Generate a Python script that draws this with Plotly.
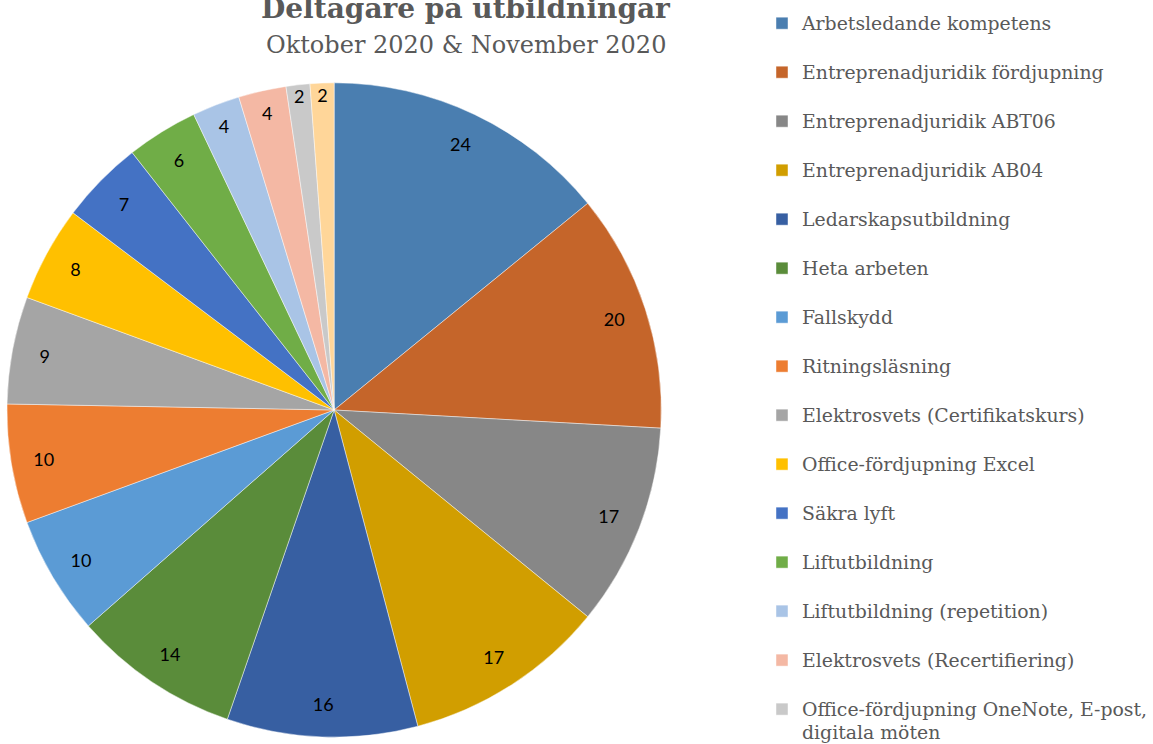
import plotly.graph_objects as go

labels = [
    "Arbetsledande kompetens",
    "Entreprenadjuridik fördjupning",
    "Entreprenadjuridik ABT06",
    "Entreprenadjuridik AB04",
    "Ledarskapsutbildning",
    "Heta arbeten",
    "Fallskydd",
    "Ritningsläsning",
    "Elektrosvets (Certifikatskurs)",
    "Office-fördjupning Excel",
    "Säkra lyft",
    "Liftutbildning",
    "Liftutbildning (repetition)",
    "Elektrosvets (Recertifiering)",
    "Office-fördjupning OneNote, E-post,<br>digitala möten",
    "Office-fördjupning Word",
]
values = [24, 20, 17, 17, 16, 14, 10, 10, 9, 8, 7, 6, 4, 4, 2, 2]
colors = [
    "#4A7EB0", "#C5652A", "#878787", "#D19E00", "#375FA2", "#5A8C3A",
    "#5B9BD5", "#ED7D31", "#A5A5A5", "#FFC000", "#4472C4", "#70AD47",
    "#A9C4E6", "#F4B8A4", "#C9C9C9", "#FFD699",
]
title = "Deltagare på utbildningar"
subtitle = "Oktober 2020 & November 2020"

W, H = 1153, 744
cx, cy, r = 335, 410, 328
dom_x = [(cx - r) / W, (cx + r) / W]
dom_y = [(H - cy - r) / H, (H - cy + r) / H]

legend_labels = ["<span style='font-size:18.85px'>" + lab + "</span><br> " for lab in labels]

fig = go.Figure()
fig.add_trace(go.Pie(
    labels=legend_labels, values=values, sort=False, direction="clockwise",
    rotation=0, marker=dict(colors=colors, line=dict(color="rgba(255,255,255,0.6)", width=0.75)),
    textinfo="none", domain=dict(x=dom_x, y=dom_y), hoverinfo="label+value",
))
fig.add_trace(go.Pie(
    labels=legend_labels, values=values, sort=False, direction="clockwise",
    rotation=0, hole=0.8, marker=dict(colors=["rgba(0,0,0,0)"] * len(values)),
    textinfo="value", textposition="inside", insidetextorientation="horizontal",
    textfont=dict(family="Lato", size=18, color="#000000"),
    domain=dict(x=dom_x, y=dom_y), showlegend=False, hoverinfo="skip",
))

fig.add_annotation(text="<b>" + title + "</b>", xref="paper", yref="paper",
                   x=467 / W, y=1 - 8.5 / H, xanchor="center", yanchor="middle",
                   showarrow=False, font=dict(family="DejaVu Serif", size=28, color="#595959"))
fig.add_annotation(text=subtitle, xref="paper", yref="paper",
                   x=467 / W, y=1 - 45 / H, xanchor="center", yanchor="middle",
                   showarrow=False, font=dict(family="DejaVu Serif", size=24, color="#595959"))

fig.update_layout(
    width=W, height=H, margin=dict(l=0, r=0, t=0, b=0),
    paper_bgcolor="white", plot_bgcolor="white",
    uniformtext=dict(minsize=18, mode="show"),
    legend=dict(x=764 / W, y=1, xanchor="left", yanchor="top", valign="top",
                title=dict(text=" ", font=dict(size=4)),
                font=dict(family="DejaVu Serif", size=17.69, color="#595959"),
                bgcolor="rgba(0,0,0,0)", maxheight=1200, traceorder="normal"),
)
fig.write_html("out.html", config={"displayModeBar": False},
               post_script="document.body.style.margin='0';")
